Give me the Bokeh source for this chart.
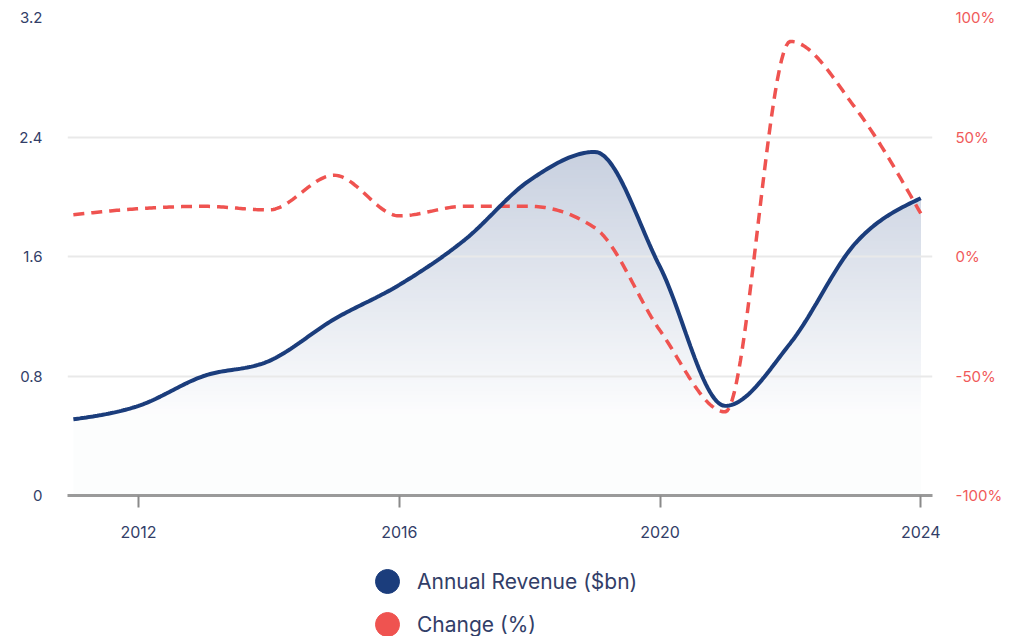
import numpy as np
from bokeh.plotting import figure
from bokeh.layouts import column
from bokeh.models import Range1d, LinearAxis, FixedTicker, PrintfTickFormatter, Legend, LegendItem
from bokeh.embed import file_html
from bokeh.resources import INLINE

# ---- data ----
years = [2011, 2012, 2013, 2014, 2015, 2016, 2017, 2018, 2019, 2020, 2021, 2022, 2023, 2024]
revenue = [0.51, 0.60, 0.80, 0.90, 1.18, 1.41, 1.71, 2.11, 2.30, 1.53, 0.60, 1.02, 1.69, 1.99]
change_pct = [17.5, 20, 21, 19.5, 34, 17, 21, 21, 12, -31, -65, 90, 62, 18]
x_ticks = [2012, 2016, 2020, 2024]
left_ticks = [0, 0.8, 1.6, 2.4, 3.2]
right_ticks = [-100, -50, 0, 50, 100]

NAVY = "#1b3d7c"
RED = "#ef5350"
TXT = "#323e68"
RED_TXT = "#f05a5a"
FONT = "Inter"


def monotone(xs, ys, n=30):
    """Monotone-X cubic rendering of a series (drawing only, like d3.curveMonotoneX)."""
    xs = np.asarray(xs, float)
    ys = np.asarray(ys, float)
    m = len(xs)
    h = np.diff(xs)
    s = np.diff(ys) / h
    t = np.zeros(m)
    for i in range(1, m - 1):
        p = (s[i - 1] * h[i] + s[i] * h[i - 1]) / (h[i - 1] + h[i])
        t[i] = (np.sign(s[i - 1]) + np.sign(s[i])) * min(abs(s[i - 1]), abs(s[i]), 0.5 * abs(p))
    t[0] = (3 * s[0] - t[1]) / 2
    t[-1] = (3 * s[-1] - t[-2]) / 2
    ox, oy = [], []
    for i in range(m - 1):
        u = np.linspace(0, 1, n, endpoint=(i == m - 2))
        h00 = 2 * u**3 - 3 * u**2 + 1
        h10 = u**3 - 2 * u**2 + u
        h01 = -2 * u**3 + 3 * u**2
        h11 = u**3 - u**2
        oy.append(h00 * ys[i] + h10 * h[i] * t[i] + h01 * ys[i + 1] + h11 * h[i] * t[i + 1])
        ox.append(xs[i] + h[i] * u)
    return np.concatenate(ox), np.concatenate(oy)


def tint(a):
    """Opaque mix of the navy tone with white (a = strength 0..1)."""
    base = (27, 61, 124)
    r, g, b = (round(255 - a * (255 - c)) for c in base)
    return "#%02x%02x%02x" % (r, g, b)


p = figure(width=1020, height=548, output_backend="svg", toolbar_location=None,
           x_range=Range1d(2010.91, 2024.18), y_range=Range1d(0, 3.2),
           min_border_left=67, min_border_right=88, min_border_top=17, min_border_bottom=53)
p.extra_y_ranges = {"pct": Range1d(-100, 100)}
p.outline_line_color = None

# gridlines
p.xgrid.grid_line_color = None
p.ygrid.grid_line_color = "#e9e9e9"
p.ygrid.grid_line_width = 2
p.ygrid.ticker = FixedTicker(ticks=left_ticks)

# gradient area under revenue: opaque bands, each painted from its floor up to the curve
sx, sy = monotone(years, revenue)
p.varea(x=sx, y1=np.zeros_like(sy), y2=sy, fill_color=tint(0.012), level="image")
step = 0.025
for lo in np.arange(0.55, 2.32, step):
    a = 0.012 + 0.228 * (lo + step - 0.55) / (2.30 - 0.55)
    top = np.maximum(sy, lo)
    p.varea(x=sx, y1=np.full_like(top, lo), y2=top, fill_color=tint(min(a, 0.24)), level="image")

# change line (right axis)
cx, cy = monotone(years, change_pct)
p.line(cx, cy, y_range_name="pct", line_color=RED, line_width=3.5, line_dash="11 7")

# revenue line
p.line(sx, sy, line_color=NAVY, line_width=4)

# axes
xa = p.xaxis[0]
xa.ticker = FixedTicker(ticks=x_ticks)
xa.axis_line_color = "#9a9a9a"
xa.axis_line_width = 3
xa.major_tick_line_color = "#8a8a8a"
xa.major_tick_line_width = 2
xa.major_tick_out = 12
xa.major_tick_in = 0
xa.minor_tick_line_color = None
xa.major_label_standoff = 18
xa.major_label_text_color = TXT
xa.major_label_text_font = FONT
xa.major_label_text_font_size = "16px"

ya = p.yaxis[0]
ya.ticker = FixedTicker(ticks=left_ticks)
ya.major_label_overrides = {0: "0", 0.8: "0.8", 1.6: "1.6", 2.4: "2.4", 3.2: "3.2"}
ya.axis_line_color = None
ya.major_tick_line_color = None
ya.minor_tick_line_color = None
ya.major_label_standoff = 19
ya.major_label_text_color = TXT
ya.major_label_text_font = FONT
ya.major_label_text_font_size = "15px"

ra = LinearAxis(y_range_name="pct", ticker=FixedTicker(ticks=right_ticks),
                formatter=PrintfTickFormatter(format="%d%%"))
ra.axis_line_color = None
ra.major_tick_line_color = None
ra.minor_tick_line_color = None
ra.major_label_standoff = 17
ra.major_label_text_color = RED_TXT
ra.major_label_text_font = FONT
ra.major_label_text_font_size = "15px"
p.add_layout(ra, "right")

# legend strip below the chart
lf = figure(width=1020, height=88, output_backend="svg", toolbar_location=None,
            x_range=Range1d(0, 1020), y_range=Range1d(0, 88),
            min_border=0, x_axis_type=None, y_axis_type=None)
lf.outline_line_color = None
lf.grid.visible = False
r_rev = lf.scatter(x=[-50], y=[-50], marker="circle", size=24, fill_color=NAVY, line_color=NAVY)
r_chg = lf.scatter(x=[-50], y=[-50], marker="circle", size=24, fill_color=RED, line_color=RED)

legend_style = dict(orientation="vertical", glyph_width=60, glyph_height=60, padding=0, margin=0,
                    label_standoff=0, border_line_color=None, background_fill_alpha=0,
                    label_text_font=FONT, label_text_font_size="21px", label_text_color=TXT)
lg1 = Legend(items=[LegendItem(label="Annual Revenue ($bn)", renderers=[r_rev])],
             location=(290, 25), **legend_style)
lg2 = Legend(items=[LegendItem(label="Change (%)", renderers=[r_chg])],
             location=(290, -18), **legend_style)
lf.add_layout(lg1, "center")
lf.add_layout(lg2, "center")

open("out.html", "w").write(file_html(column(p, lf), INLINE))
